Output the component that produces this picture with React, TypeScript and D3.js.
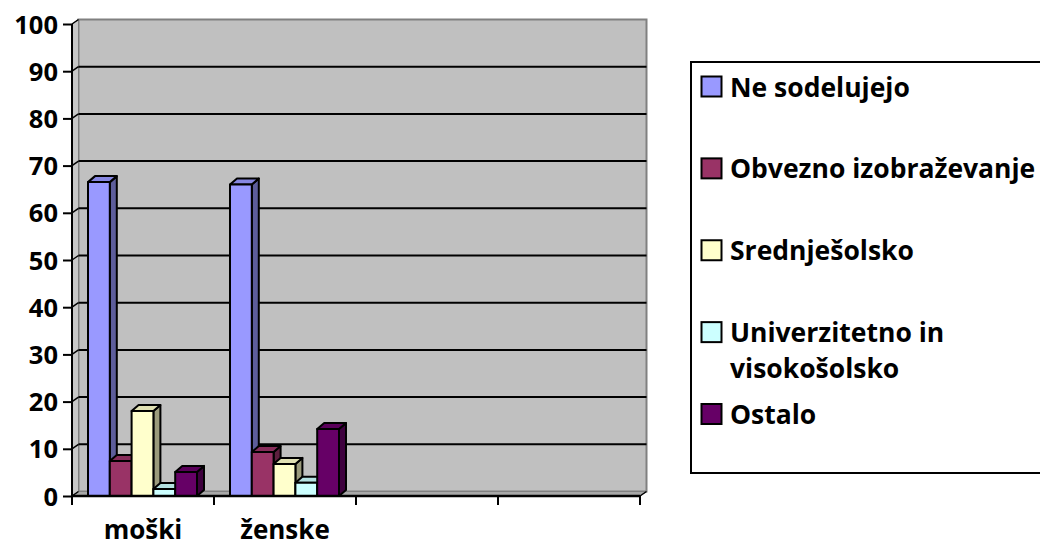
import React, { useRef, useEffect } from "react";
import * as d3 from "d3";

const width = 1040;
const height = 546;

const categories = ["moški", "ženske", "", ""];
const seriesNames = [
  "Ne sodelujejo",
  "Obvezno izobraževanje",
  "Srednješolsko",
  "Univerzitetno in visokošolsko",
  "Ostalo"
];
const legendLines = [
  ["Ne sodelujejo"],
  ["Obvezno izobraževanje"],
  ["Srednješolsko"],
  ["Univerzitetno in", "visokošolsko"],
  ["Ostalo"]
];
// values per series, one per category (moški, ženske)
const neSodelujejo = [66.5, 66.0];
const obvezno = [7.4, 9.3];
const srednje = [18.0, 6.8];
const univerzitetno = [1.5, 2.8];
const ostalo = [5.1, 14.2];
const seriesValues = [neSodelujejo, obvezno, srednje, univerzitetno, ostalo];
const yTicks = [0, 10, 20, 30, 40, 50, 60, 70, 80, 90, 100];

const fronts = ["#9999FF", "#993366", "#FFFFCC", "#CCFFFF", "#660066"];

const font = "'Open Sans', 'DejaVu Sans', sans-serif";

export default function App() {
  const ref = useRef<SVGSVGElement | null>(null);

  useEffect(() => {
    document.body.style.margin = "0";
    const svg = d3.select(ref.current);
    svg.selectAll("*").remove();

    const left = 72;
    const right = 640;
    const y = d3.scaleLinear().domain([0, 100]).range([496, 24]);
    const x0 = d3.scaleBand<string>().domain(categories.map((_, i) => String(i))).range([left, right]);
    const x1 = d3
      .scaleBand<string>()
      .domain(seriesNames)
      .range([16, x0.bandwidth() - 17]);

    // depth of the 3D walls and bars
    const wx = 6.5, wy = 4.5;
    const bx = 7, by = 6;

    // back wall
    svg.append("rect")
      .attr("x", left + wx).attr("y", y(100) - wy)
      .attr("width", right - left).attr("height", y(0) - y(100))
      .attr("fill", "#C0C0C0").attr("stroke", "#808080").attr("stroke-width", 2);

    // side wall
    svg.append("polygon")
      .attr("points", [
        [left, y(100)], [left + wx, y(100) - wy], [left + wx, y(0) - wy], [left, y(0)]
      ].map((p) => p.join(",")).join(" "))
      .attr("fill", "#C8C8C8").attr("stroke", "#808080").attr("stroke-width", 1);

    // floor
    svg.append("polygon")
      .attr("points", [
        [left, y(0)], [right, y(0)], [right + wx, y(0) - wy], [left + wx, y(0) - wy]
      ].map((p) => p.join(",")).join(" "))
      .attr("fill", "#A8A8A8").attr("stroke", "#808080").attr("stroke-width", 1);

    // gridlines on back wall
    const grid = yTicks.filter((t) => t > 0 && t < 100);
    svg.append("g").selectAll("line").data(grid).enter().append("line")
      .attr("x1", left + wx).attr("x2", right + wx)
      .attr("y1", (d) => y(d) - wy).attr("y2", (d) => y(d) - wy)
      .attr("stroke", "#000").attr("stroke-width", 2);
    // gridlines on side wall
    svg.append("g").selectAll("line").data(yTicks).enter().append("line")
      .attr("x1", left).attr("x2", left + wx)
      .attr("y1", (d) => y(d)).attr("y2", (d) => y(d) - wy)
      .attr("stroke", "#000").attr("stroke-width", 1.5);

    // bars
    categories.forEach((_, ci) => {
      seriesValues.forEach((vals, si) => {
        const v = vals[ci];
        if (v === undefined) return;
        const bx0 = (x0(String(ci)) as number) + (x1(seriesNames[si]) as number);
        const w = x1.bandwidth();
        const yt = y(v);
        const yb = y(0);
        const c = d3.color(fronts[si])!;
        const g = svg.append("g").attr("stroke", "#000").attr("stroke-width", 2)
          .attr("stroke-linejoin", "round");
        g.append("polygon")
          .attr("points", [[bx0 + w, yt], [bx0 + w + bx, yt - by], [bx0 + w + bx, yb - by], [bx0 + w, yb]]
            .map((p) => p.join(",")).join(" "))
          .attr("fill", c.darker(1.4).toString());
        g.append("polygon")
          .attr("points", [[bx0, yt], [bx0 + bx, yt - by], [bx0 + w + bx, yt - by], [bx0 + w, yt]]
            .map((p) => p.join(",")).join(" "))
          .attr("fill", c.darker(0.35).toString());
        g.append("rect")
          .attr("x", bx0).attr("y", yt).attr("width", w).attr("height", yb - yt)
          .attr("fill", fronts[si]);
      });
    });

    // y axis
    const yAxis = svg.append("g")
      .attr("transform", `translate(${left},0)`)
      .call(d3.axisLeft(y).tickValues(yTicks).tickSize(9).tickPadding(5));
    yAxis.select(".domain").attr("stroke-width", 2).attr("d", `M0,${y(100)}V${y(0)}`);
    yAxis.selectAll(".tick line").attr("stroke-width", 2);
    yAxis.selectAll("text")
      .attr("font-family", font).attr("font-weight", "bold").attr("font-size", 25.5)
      .attr("fill", "#000").attr("dy", "0.36em");

    // x axis
    const xAxis = svg.append("g")
      .attr("transform", `translate(0,${y(0)})`);
    xAxis.append("line")
      .attr("x1", left).attr("x2", right).attr("stroke", "#000").attr("stroke-width", 2.5);
    xAxis.append("line")
      .attr("x1", right).attr("x2", right + wx).attr("y2", -wy)
      .attr("stroke", "#000").attr("stroke-width", 1.5);
    const bounds = categories.map((_, i) => x0(String(i)) as number).concat([right]);
    xAxis.selectAll("line.tick").data(bounds).enter().append("line")
      .attr("class", "tick")
      .attr("x1", (d) => d).attr("x2", (d) => d).attr("y1", 0).attr("y2", 9)
      .attr("stroke", "#000").attr("stroke-width", 2);
    xAxis.selectAll("text").data(categories).enter().append("text")
      .attr("x", (_, i) => (x0(String(i)) as number) + x0.bandwidth() / 2)
      .attr("y", 43)
      .attr("text-anchor", "middle")
      .attr("font-family", font).attr("font-weight", "bold").attr("font-size", 26)
      .text((d) => d);

    // legend
    const legend = svg.append("g");
    legend.append("rect")
      .attr("x", 691).attr("y", 62).attr("width", 400).attr("height", 411)
      .attr("fill", "#fff").attr("stroke", "#000").attr("stroke-width", 2);
    const ly = d3.scalePoint<string>().domain(seriesNames).range([86.5, 414]);
    seriesNames.forEach((name, i) => {
      const cy = ly(name) as number;
      legend.append("rect")
        .attr("x", 701.5).attr("y", cy - 10).attr("width", 20).attr("height", 20)
        .attr("fill", fronts[i]).attr("stroke", "#000").attr("stroke-width", 2);
      const t = legend.append("text")
        .attr("x", 730).attr("y", cy + 10)
        .attr("font-family", font).attr("font-weight", "bold").attr("font-size", 26.5);
      legendLines[i].forEach((line, li) => {
        t.append("tspan").attr("x", 730).attr("dy", li === 0 ? 0 : 36).text(line);
      });
    });
  }, []);

  return <svg ref={ref} width={width} height={height} style={{ display: "block" }} />;
}
